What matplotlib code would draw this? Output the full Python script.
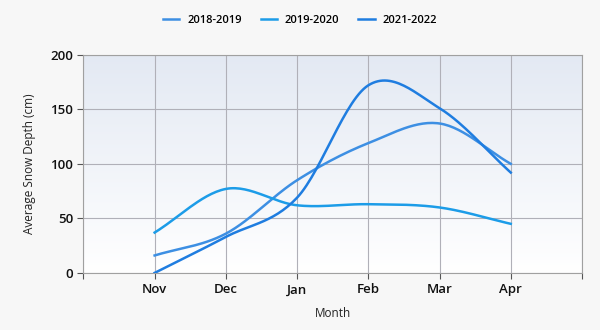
import numpy as np
import matplotlib.pyplot as plt

months = ["Nov", "Dec", "Jan", "Feb", "Mar", "Apr"]
season_labels = ["2018-2019", "2019-2020", "2021-2022"]
depth_2018_2019 = [16, 36, 85, 119, 137, 100]
depth_2019_2020 = [37, 77, 62, 63, 60, 45]
depth_2021_2022 = [0, 33, 69, 172, 151, 92]
colors = ["#3d8fe3", "#1c9ce8", "#1f7de0"]

plt.rcParams["font.family"] = ["Open Sans", "DejaVu Sans"]


def smooth(y, n=30):
    # Catmull-Rom spline through the points
    y = np.asarray(y, dtype=float)
    m = np.gradient(y)
    xs, ys = [], []
    for i in range(len(y) - 1):
        t = np.linspace(0, 1, n, endpoint=False)
        h00 = 2 * t**3 - 3 * t**2 + 1
        h10 = t**3 - 2 * t**2 + t
        h01 = -2 * t**3 + 3 * t**2
        h11 = t**3 - t**2
        xs.append(i + t)
        ys.append(h00 * y[i] + h10 * m[i] + h01 * y[i + 1] + h11 * m[i + 1])
    xs.append([len(y) - 1])
    ys.append([y[-1]])
    return np.concatenate(xs), np.concatenate(ys)


fig = plt.figure(figsize=(6, 3.3), dpi=100, facecolor="#f7f7f7")
ax = fig.add_axes([0.139, 0.173, 0.831, 0.661])

# vertical gradient behind the plot
grad = np.linspace(0, 1, 256).reshape(-1, 1)
ax.imshow(grad, extent=[-1, 6, 0, 200], aspect="auto", origin="lower",
          cmap=plt.matplotlib.colors.LinearSegmentedColormap.from_list(
              "bg", ["#ffffff", "#e3e9f3"]), zorder=0)

for label, vals, c in zip(season_labels, [depth_2018_2019, depth_2019_2020, depth_2021_2022], colors):
    sx, sy = smooth(vals)
    ax.plot(sx, sy, color=c, lw=1.8, label=label, zorder=3)

ax.set_xlim(-1, 6)
ax.set_ylim(0, 200)
ax.set_xticks(range(-1, 7))
ax.set_xticklabels([""] + months + [""])
ax.set_yticks([0, 50, 100, 150, 200])
ax.grid(True, color="#b0b0b8", lw=0.8, zorder=1)
for s in ax.spines.values():
    s.set_color("#a0a0a0")
ax.tick_params(colors="#555555", length=4, width=0.8, labelsize=9.5)
for t in ax.get_xticklabels() + ax.get_yticklabels():
    t.set_color("#111111")
    t.set_fontweight("semibold")

ax.set_xlabel("Month", fontsize=8.5, color="#222222", labelpad=8)
ax.set_ylabel("Average Snow Depth (cm)", fontsize=8.5, color="#222222", labelpad=10)

fig.legend(loc="upper center", bbox_to_anchor=(0.5, 0.985), ncol=3, frameon=False,
           handlelength=1.5, handletextpad=0.7, columnspacing=1.7,
           prop={"weight": "semibold", "size": 8})

fig.savefig("out.png", facecolor=fig.get_facecolor())
